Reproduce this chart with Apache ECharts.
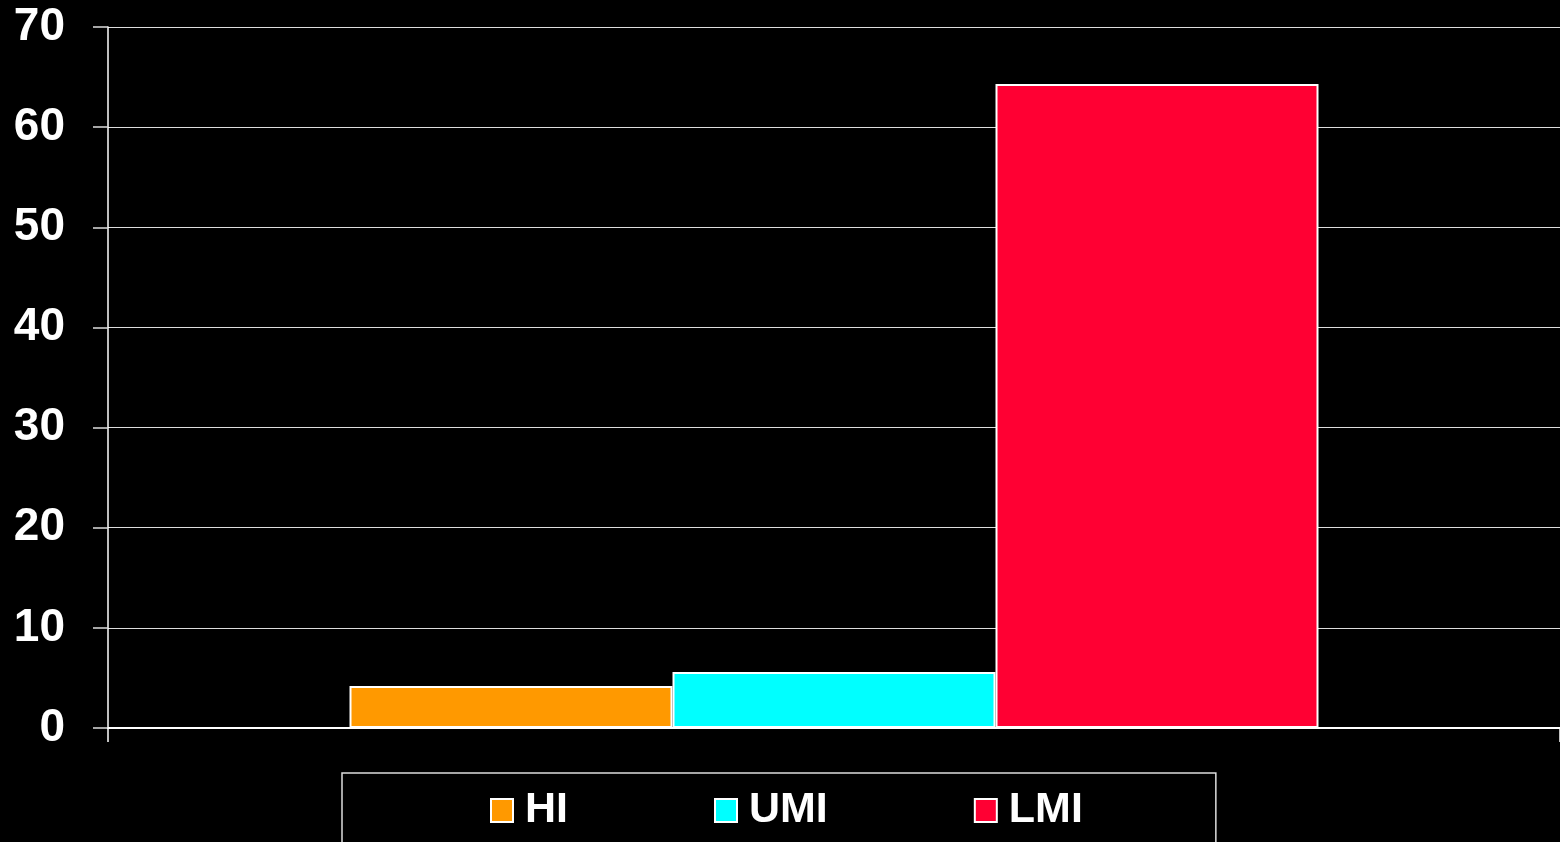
<!DOCTYPE html>
<html>
<head>
<meta charset="utf-8">
<script src="https://cdn.jsdelivr.net/npm/echarts@6/dist/echarts.min.js"></script>
<style>
  html, body { margin: 0; padding: 0; background: #000; }
  #chart { width: 1560px; height: 842px; }
</style>
</head>
<body>
<div id="chart"></div>
<script>
// data
var categories = ['']
var seriesNames = ['HI', 'UMI', 'LMI']
var seriesColors = ['#FF9900', '#00FFFF', '#FF0033']
var hiValues = [4.2]
var umiValues = [5.6]
var lmiValues = [64.3]
var yTicks = { min: 0, max: 70, interval: 10 }

var allValues = [hiValues, umiValues, lmiValues]

var chart = echarts.init(document.getElementById('chart'))

var series = seriesNames.map(function (name, i) {
  return {
    name: name,
    type: 'bar',
    barWidth: 323,
    barGap: '0%',
    itemStyle: {
      color: seriesColors[i],
      borderColor: '#fff',
      borderWidth: 2
    },
    data: allValues[i]
  }
})

var option = {
  backgroundColor: '#000',
  animation: false,
  grid: {
    left: 108,
    right: -6,
    top: 27,
    bottom: 114,
    containLabel: false
  },
  legend: {
    data: seriesNames,
    left: 342,
    top: 773,
    orient: 'horizontal',
    icon: 'rect',
    itemWidth: 22,
    itemHeight: 23,
    itemGap: 146,
    padding: [16, 133, 40, 148],
    borderColor: '#ddd',
    borderWidth: 1.5,
    textStyle: {
      color: '#fff',
      fontSize: 43,
      fontWeight: 'bold',
      fontFamily: 'Liberation Sans, Arial, sans-serif',
      padding: [0, 0, 0, 7]
    }
  },
  xAxis: {
    type: 'category',
    data: categories,
    axisLine: { lineStyle: { color: '#fff', width: 2 } },
    axisTick: { show: true, length: 14, lineStyle: { color: '#fff', width: 1.5 } },
    axisLabel: { show: false },
    splitLine: { show: false }
  },
  yAxis: {
    type: 'value',
    min: yTicks.min,
    max: yTicks.max,
    interval: yTicks.interval,
    axisLine: { show: true, lineStyle: { color: '#fff', width: 1.5 } },
    axisTick: { show: true, length: 15, lineStyle: { color: '#ddd', width: 1.5 } },
    axisLabel: {
      color: '#fff',
      fontSize: 46,
      fontWeight: 'bold',
      fontFamily: 'Liberation Sans, Arial, sans-serif',
      margin: 43
    },
    splitLine: { show: true, lineStyle: { color: '#ddd', width: 1.2 } }
  },
  series: series
}

chart.setOption(option)
</script>
</body>
</html>
